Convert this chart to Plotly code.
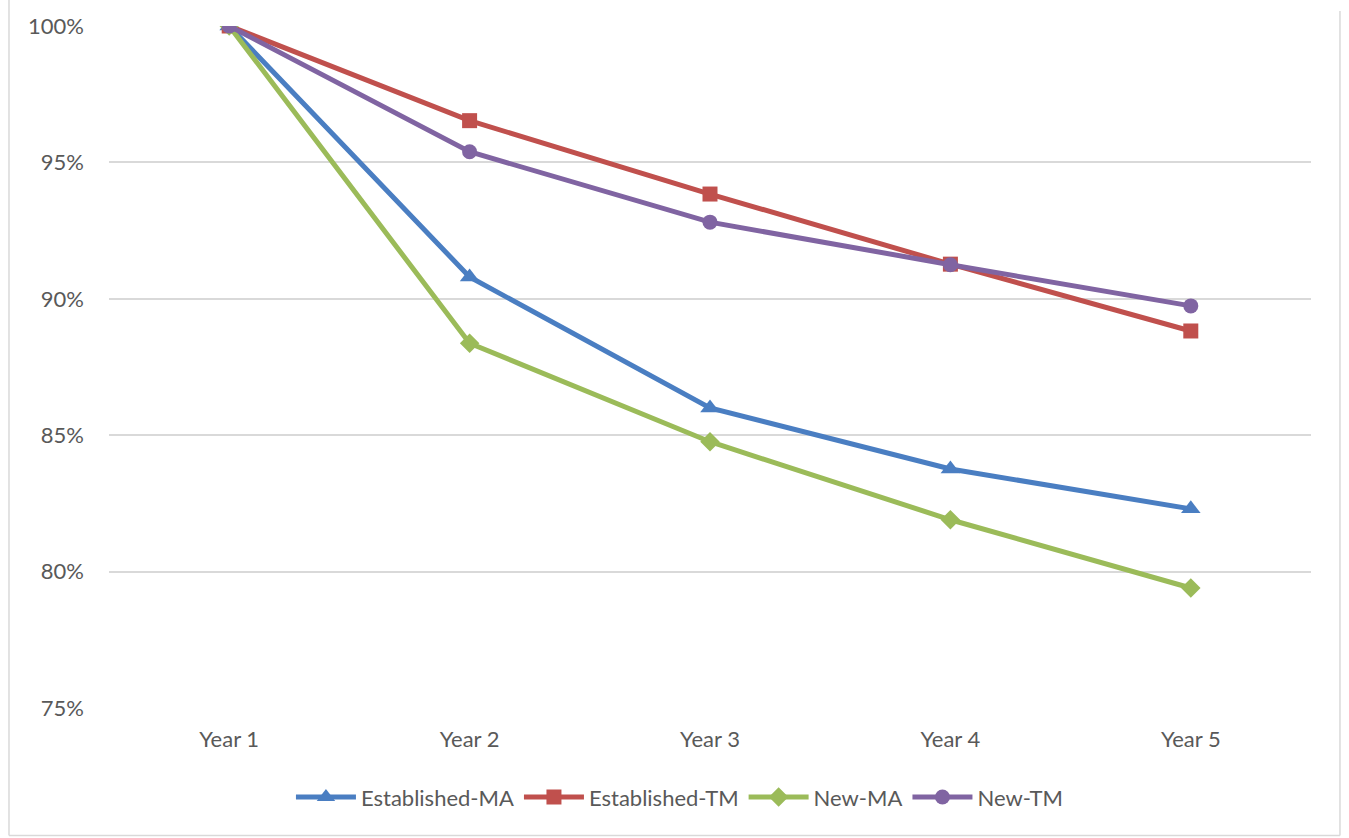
import plotly.graph_objects as go

years = ["Year 1", "Year 2", "Year 3", "Year 4", "Year 5"]
established_ma = [100.0, 90.8, 86.0, 83.76, 82.3]
established_tm = [100.0, 96.53, 93.84, 91.27, 88.82]
new_ma = [100.0, 88.37, 84.76, 81.9, 79.4]
new_tm = [100.0, 95.39, 92.81, 91.25, 89.74]

series = [
    ("Established-MA", established_ma, "#4A7EC2", "triangle-up", 17),
    ("Established-TM", established_tm, "#C0504D", "square", 15),
    ("New-MA", new_ma, "#9BBB59", "diamond", 15),
    ("New-TM", new_tm, "#8064A2", "circle", 15),
]

font_family = "Lato, 'Open Sans', sans-serif"
text_color = "#595959"
grid_color = "#D9D9D9"

fig = go.Figure()
for name, vals, color, symbol, size in series:
    fig.add_trace(go.Scatter(
        x=years, y=vals, name=name, mode="lines+markers",
        line=dict(color=color, width=5),
        marker=dict(symbol=symbol, size=size, color=color, line=dict(width=0)),
    ))

fig.update_layout(
    width=1349, height=838,
    margin=dict(l=109, r=38, t=23, b=130),
    paper_bgcolor="white", plot_bgcolor="white",
    font=dict(family=font_family, size=22, color=text_color),
    showlegend=True,
    legend=dict(
        orientation="h", x=0.475, xanchor="center", y=-0.1, yanchor="top",
        font=dict(size=22, color=text_color), itemwidth=60,
        traceorder="normal",
    ),
    xaxis=dict(
        type="category", range=[-0.5, 4.5], showgrid=False, showline=False,
        ticks="", ticklabelstandoff=16, tickfont=dict(size=22, color=text_color),
        zeroline=False,
    ),
    yaxis=dict(
        range=[75, 100], tickvals=[75, 80, 85, 90, 95, 100],
        ticktext=["75%", "80%", "85%", "90%", "95%", "100%"],
        showgrid=True, gridcolor=grid_color, gridwidth=1.5,
        showline=False, zeroline=False, ticks="", ticklabelstandoff=24,
        tickfont=dict(size=22, color=text_color),
    ),
    shapes=[
        dict(type="line", xref="paper", yref="paper", x0=-0.0832, x1=-0.0832,
             y0=-0.1869, y1=1.04, line=dict(color=grid_color, width=1.5)),
        dict(type="line", xref="paper", yref="paper", x0=1.0241, x1=1.0241,
             y0=-0.1869, y1=1.022, line=dict(color=grid_color, width=1.5)),
        dict(type="line", xref="paper", yref="paper", x0=-0.0832, x1=1.0241,
             y0=-0.1869, y1=-0.1869, line=dict(color=grid_color, width=1.5)),
    ],
)

fig.write_html("out.html")
